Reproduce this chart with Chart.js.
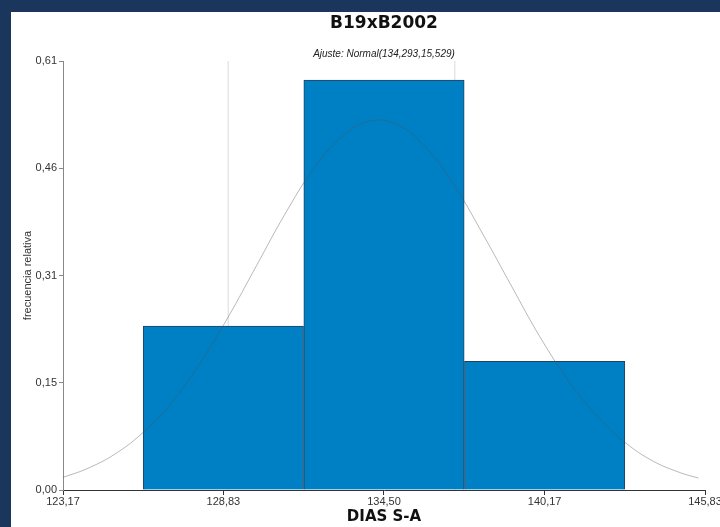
<!DOCTYPE html>
<meta charset="utf-8">
<style>
html, body {
  margin: 0;
  height: 100%;
  background: #1b365d;
  overflow: hidden;
}

.frame {
  position: absolute;
  left: 11px;
  top: 12px;
  width: 709px;
  height: 515px;
  background: #fff;
}
</style>
<body>

<div class="frame"><canvas id="chart" width="709" height="515"></canvas></div>

<script src="https://cdn.jsdelivr.net/npm/chart.js@4/dist/chart.umd.min.js"></script>
<script>
"use strict";

// histogram: bin centres and relative frequency
var binCenters = [128.83, 134.50, 140.17];
var binFreq = [0.233, 0.583, 0.183];

// fitted normal curve
var curveX = [123.17, 124, 125, 126, 127, 128, 129, 130, 131, 132, 133, 134, 135,
              136, 137, 138, 139, 140, 141, 142, 143, 144, 145, 145.6];
var curveY = [0.018, 0.030, 0.051, 0.082, 0.124, 0.180, 0.246, 0.319, 0.392, 0.456, 0.502, 0.525, 0.519,
              0.486, 0.432, 0.363, 0.290, 0.218, 0.156, 0.106, 0.068, 0.041, 0.024, 0.017];

// the two thin reference lines
var markerX = [129.0, 137.0];

var xTickValues = [123.17, 128.83, 134.50, 140.17, 145.83];
var xTickLabels = ["123,17", "128,83", "134,50", "140,17", "145,83"];
var yTickValues = [0, 0.1525, 0.305, 0.4575, 0.61];
var yTickLabels = ["0,00", "0,15", "0,31", "0,46", "0,61"];

var titleText = "B19xB2002";
var subtitleText = "Ajuste: Normal(134,293,15,529)";
var xTitle = "DIAS S-A";
var yTitle = "frecuencia relativa";

var SANS = "'Liberation Sans', Arial, sans-serif";

var datasets = [];

markerX.forEach(function (x) {
  datasets.push({
    type: "line",
    data: [{ x: x, y: 0 }, { x: x, y: 0.61 }],
    borderColor: "#dadada",
    borderWidth: 1,
    pointRadius: 0,
    order: 3
  });
});

datasets.push({
  type: "bar",
  data: binCenters.map(function (c, i) { return { x: c, y: binFreq[i] }; }),
  backgroundColor: "#0080c4",
  borderColor: "#23405e",
  borderWidth: 1,
  barPercentage: 1,
  categoryPercentage: 1,
  order: 2
});

datasets.push({
  type: "line",
  data: curveX.map(function (x, i) { return { x: x, y: curveY[i] }; }),
  borderColor: "rgba(80,80,80,0.4)",
  borderWidth: 1,
  pointRadius: 0,
  tension: 0.4,
  order: 1
});

var textPlugin = {
  id: "texts",
  afterDraw: function (chart) {
    var ctx = chart.ctx;
    var cx = (chart.chartArea.left + chart.chartArea.right) / 2;
    ctx.save();
    ctx.fillStyle = "#111";
    ctx.textAlign = "center";
    ctx.textBaseline = "middle";
    ctx.font = "bold 17px 'DejaVu Sans', Verdana, sans-serif";
    ctx.fillText(titleText, cx, 12);
    ctx.fillStyle = "#222";
    ctx.font = "italic 10px " + SANS;
    ctx.fillText(subtitleText, cx, 42);
    ctx.fillStyle = "#111";
    ctx.font = "bold 15px 'DejaVu Sans', Verdana, sans-serif";
    ctx.fillText(xTitle, cx, 505);
    ctx.fillStyle = "#333";
    ctx.font = "11px " + SANS;
    ctx.translate(17, (chart.chartArea.top + chart.chartArea.bottom) / 2);
    ctx.rotate(-Math.PI / 2);
    ctx.fillText(yTitle, 0, 0);
    ctx.restore();
  }
};

new Chart(document.getElementById("chart"), {
  type: "bar",
  data: { datasets: datasets },
  plugins: [textPlugin],
  options: {
    responsive: false,
    animation: false,
    devicePixelRatio: 1,
    layout: { padding: { top: 49, right: 15, bottom: 0, left: 0 } },
    plugins: {
      legend: { display: false },
      tooltip: { enabled: false }
    },
    scales: {
      x: {
        type: "linear",
        min: 123.17,
        max: 145.83,
        offset: false,
        afterFit: function (scale) {
          scale.height = 37;
          scale.paddingRight = 15;
        },
        afterBuildTicks: function (scale) {
          scale.ticks = xTickValues.map(function (v) { return { value: v }; });
        },
        ticks: {
          autoSkip: false,
          maxRotation: 0,
          padding: 0,
          color: "#333",
          font: { family: SANS, size: 11 },
          callback: function (v, i) { return xTickLabels[i]; }
        },
        grid: { offset: false, drawOnChartArea: false, drawTicks: true, tickLength: 5, color: "#333" },
        border: { display: true, color: "#333" }
      },
      y: {
        min: 0,
        max: 0.61,
        afterFit: function (scale) { scale.width = 52; },
        afterBuildTicks: function (scale) {
          scale.ticks = yTickValues.map(function (v) { return { value: v }; });
        },
        ticks: {
          padding: 2,
          color: "#333",
          font: { family: SANS, size: 11 },
          callback: function (v, i) { return yTickLabels[i]; }
        },
        grid: { drawOnChartArea: false, drawTicks: true, tickLength: 4, color: "#888" },
        border: { display: true, color: "#888" }
      }
    }
  }
});
</script>
</body>
